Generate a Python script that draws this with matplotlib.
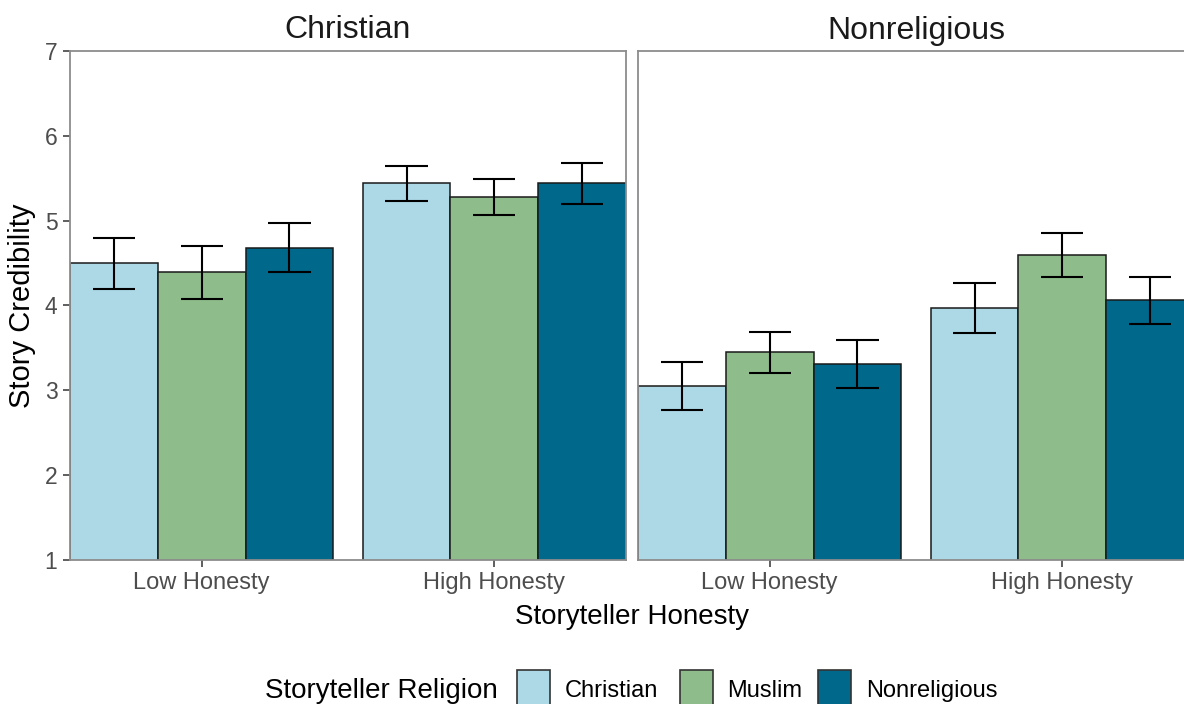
import matplotlib
matplotlib.use("Agg")
import matplotlib.pyplot as plt
from matplotlib.patches import Rectangle

plt.rcParams['font.family'] = ['Liberation Sans', 'DejaVu Sans']

# Data: mean story credibility with error-bar half widths
facets = ["Christian", "Nonreligious"]
honesty_levels = ["Low Honesty", "High Honesty"]
religions = ["Christian", "Muslim", "Nonreligious"]
colors = ["#ADD8E6", "#8FBC8B", "#00688B"]

# means[facet][religion] -> [Low, High]
means = {
    "Christian": {
        "Christian": [4.50, 5.44],
        "Muslim": [4.39, 5.28],
        "Nonreligious": [4.68, 5.44],
    },
    "Nonreligious": {
        "Christian": [3.05, 3.97],
        "Muslim": [3.45, 4.60],
        "Nonreligious": [3.31, 4.06],
    },
}
errors = {
    "Christian": {
        "Christian": [0.30, 0.21],
        "Muslim": [0.31, 0.21],
        "Nonreligious": [0.29, 0.24],
    },
    "Nonreligious": {
        "Christian": [0.28, 0.29],
        "Muslim": [0.24, 0.26],
        "Nonreligious": [0.28, 0.28],
    },
}

W, H = 1184, 704
fig = plt.figure(figsize=(W / 100, H / 100), dpi=100)

def px_axes(x0, x1, ytop, ybot):
    return fig.add_axes([x0 / W, 1 - ybot / H, (x1 - x0) / W, (ybot - ytop) / H])

spine_col = "#8C8C8C"
tick_col = "#4D4D4D"
bar_w = 0.3
offsets = [-0.3, 0.0, 0.3]
cap = 0.072

panels = [(70, 626), (638, 1194)]
for i, (facet, (x0, x1)) in enumerate(zip(facets, panels)):
    ax = px_axes(x0, x1, 51, 560)
    for j, rel in enumerate(religions):
        xs = [k + 1 + offsets[j] for k in range(len(honesty_levels))]
        ax.bar(xs, means[facet][rel], width=bar_w, color=colors[j],
               edgecolor="#1A1A1A", linewidth=1.1, zorder=2)
        ax.errorbar(xs, means[facet][rel], yerr=errors[facet][rel], fmt="none",
                    ecolor="black", elinewidth=1.5, capsize=0, zorder=3)
        for x, m, e in zip(xs, means[facet][rel], errors[facet][rel]):
            for yy in (m - e, m + e):
                ax.plot([x - cap, x + cap], [yy, yy], color="black", lw=1.5, zorder=3,
                        solid_capstyle="butt")
    ax.set_xlim(0.55, 2.45)
    ax.set_ylim(1, 7)
    ax.set_xticks([1, 2])
    ax.set_xticklabels(honesty_levels, fontsize=17, color=tick_col)
    for s in ax.spines.values():
        s.set_color(spine_col)
        s.set_linewidth(1.3)
        s.set_zorder(4)
    ax.tick_params(axis="both", color="#333333", length=5, width=1.1, pad=4)
    if i == 0:
        ax.set_yticks(range(1, 8))
        ax.set_yticklabels([str(v) for v in range(1, 8)], fontsize=16.5, color=tick_col)
        ax.set_ylabel("Story Credibility", fontsize=21, color="black", labelpad=6)
    else:
        ax.set_yticks([])
    ax.set_title(facet, fontsize=23, color="#1A1A1A", pad=9)

fig.text(632 / W, 1 - 617 / H, "Storyteller Honesty", fontsize=20,
         ha="center", va="center", color="black")

# Legend along the bottom edge
leg_y = 1 - 691 / H
fig.text(265 / W, leg_y, "Storyteller Religion", fontsize=20, ha="left", va="center")
box_x = [517, 680, 818]
lab_x = [565, 727, 866]
for bx, lx, rel, col in zip(box_x, lab_x, religions, colors):
    fig.patches.append(Rectangle((bx / W, 1 - 706 / H), 33 / W, 36 / H,
                                 transform=fig.transFigure, facecolor=col,
                                 edgecolor="#333333", linewidth=1.2))
    fig.text(lx / W, leg_y, rel, fontsize=17, ha="left", va="center")

fig.savefig("out.png", dpi=100, facecolor="white")
